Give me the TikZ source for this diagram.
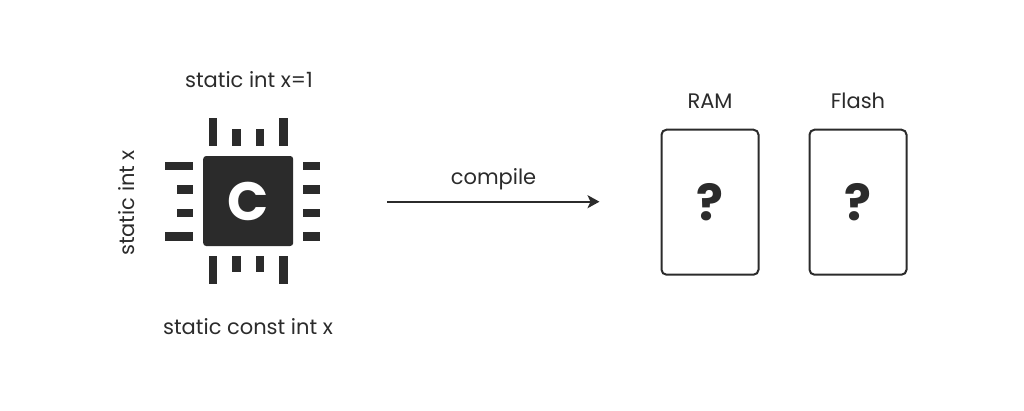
\documentclass[tikz,border=0pt]{standalone}
\usepackage{fontspec}
\setmainfont{Poppins}
\usetikzlibrary{arrows.meta}
\definecolor{ink}{HTML}{2B2B2B}
\tikzset{
  lbl/.style={text=ink,font=\fontsize{21}{25}\selectfont,inner sep=0pt,anchor=base},
  pin/.style={fill=ink,draw=none},
  card/.style={draw=ink,line width=2pt,rounded corners=5pt,fill=white,minimum width=97pt,minimum height=145pt,inner sep=0pt,text=ink,font=\fontsize{50}{56}\selectfont\bfseries},
  chipbody/.style={fill=ink,rounded corners=3pt,minimum width=90pt,minimum height=90pt,inner sep=0pt,text=white,font=\fontsize{54}{60}\selectfont\bfseries},
}
\begin{document}
\begin{tikzpicture}[x=1pt,y=-1pt]
\useasboundingbox (0,0) rectangle (1024,410);
\node[chipbody] (chip) at (248.2,201) {C};
% top pins
\foreach \a/\b/\t in {208.7/217.3/118.3,232/240.7/129.3,255.7/264.3/129.3,279/287.7/118.3}{
  \fill[pin] (\a,\t) rectangle (\b,146);}
% bottom pins
\foreach \a/\b/\t in {208.7/217.3/284,232/240.7/272.3,255.7/264.3/272.3,279/287.7/284}{
  \fill[pin] (\a,256.3) rectangle (\b,\t);}
% left pins
\foreach \a/\t/\b in {165.3/161.7/170.3,176.7/185/193.7,176.7/208.7/217.3,165.3/232.3/241}{
  \fill[pin] (\a,\t) rectangle (193.3,\b);}
% right pins
\foreach \t/\b in {161.7/170.3,185/193.7,208.7/217.3,232.3/241}{
  \fill[pin] (303,\t) rectangle (319.7,\b);}
\node[lbl] (top) at (249,87.5) {static int x=1};
\node[lbl] (bottom) at (248,334.5) {static const int x};
\node[lbl,rotate=90] (side) at (134,203) {static int x};
\node[card] (ram) at (710,202.2) {?};
\node[card] (flash) at (858,202.2) {?};
\node[lbl] (ramlbl) at (710,108) {RAM};
\node[lbl] (flashlbl) at (858,108) {Flash};
\coordinate (from) at (387,201.7);
\coordinate (to) at (599.5,201.7);
\draw[ink,line width=2pt,-{Stealth[length=12pt,width=13pt,inset=3pt]}] (from) -- (to);
\node[lbl] (compile) at (493.5,184.5) {compile};
\end{tikzpicture}
\end{document}
